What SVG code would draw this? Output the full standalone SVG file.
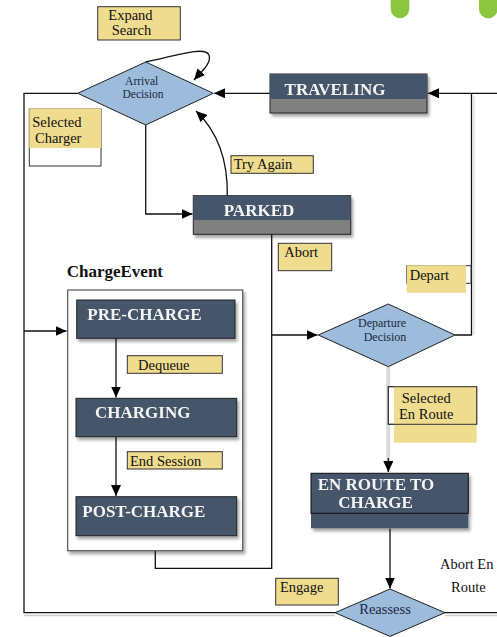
<svg xmlns="http://www.w3.org/2000/svg" width="497" height="637" viewBox="0 0 497 637">
<style>
.lbl{fill:#efdc8e;stroke:#333;stroke-width:1}
.lt{font-family:"Liberation Serif",serif;font-size:14.5px;fill:#111}
.nt{font-family:"Liberation Serif",serif;font-size:17px;font-weight:bold;fill:#f4f4f4}
.dt{font-family:"Liberation Serif",serif;fill:#1a2a40;text-anchor:middle}
.dia{fill:#9dbbdb;stroke:#222;stroke-width:1}
.top{fill:#44546a}
.bot{fill:#808080;stroke:#222;stroke-width:1}
.con{fill:none;stroke:#111;stroke-width:1.3}
</style>
<defs>
<filter id="sh" x="-10%" y="-10%" width="130%" height="140%">
<feDropShadow dx="2" dy="3" stdDeviation="1.8" flood-color="#000" flood-opacity="0.35"/>
</filter>
<marker id="ah" markerUnits="userSpaceOnUse" markerWidth="12" markerHeight="10" refX="11" refY="5" orient="auto">
<path d="M0,0 L11,5 L0,10 Z" fill="#000"/>
</marker>
</defs>
<rect width="497" height="637" fill="#fff"/>
<g id="deco">
<path d="M390.7,0 V9 A9.3,9.3 0 0 0 409.3,9 V0 Z" fill="#8cc63f"/>
<path d="M479,0 V9 A9.3,9.3 0 0 0 497.6,9 V0 Z" fill="#8cc63f"/>
</g>
<g id="charge-event">
<text x="66.7" y="276.7" font-family="Liberation Serif, serif" font-size="17px" font-weight="bold" fill="#111">ChargeEvent</text>
<rect x="67.7" y="290" width="175" height="260.7" fill="#fff" stroke="#555" stroke-width="1.2" filter="url(#sh)"/>
</g>
<g id="connectors">
<path d="M24,615.5 H335 M445,615.5 H497" fill="none" stroke="#ccc" stroke-width="1.3"/>
<path class="con" d="M335,612.7 H24 V93.3 H77.7"/>
<path class="con" d="M445,612.7 H497"/>
<path class="con" d="M24,331 H66.5" marker-end="url(#ah)"/>
<path class="con" d="M270,93.3 H214" marker-end="url(#ah)"/>
<path class="con" d="M497,93.3 H428" marker-end="url(#ah)"/>
<path class="con" d="M455,335 H471.5 V93.3"/>
<path d="M474,96 V335" fill="none" stroke="#ddd" stroke-width="1.3"/>
<path class="con" d="M145.7,62 C178,55 205,46 209,55 C212,63 201,72 194,80" marker-end="url(#ah)"/>
<path class="con" d="M227.3,196 C228,160 218,132 196,111" marker-end="url(#ah)"/>
<path class="con" d="M145.7,125 V214 H192.5" marker-end="url(#ah)"/>
<path class="con" d="M271.7,234 V335"/>
<path class="con" d="M155.3,551 V568.3 H271.7 V335 H317.5" marker-end="url(#ah)"/>
<path class="con" d="M116,338 V397.5" marker-end="url(#ah)"/>
<path class="con" d="M116,437 V496" marker-end="url(#ah)"/>
<path d="M388.3,367 V462" fill="none" stroke="#d9d9d9" stroke-width="4"/>
<path class="con" d="M388.3,458 V472" marker-end="url(#ah)"/>
<path class="con" d="M390,528.5 V588.5" marker-end="url(#ah)"/>
</g>
<g id="expand-search">
<rect class="lbl" x="97.7" y="6.7" width="82.6" height="33.3"/>
<text class="lt" x="108.3" y="20">Expand</text>
<text class="lt" x="111.7" y="34.7">Search</text>
</g>
<g id="arrival-decision">
<polygon class="dia" points="77.7,93.3 145.7,62 213.3,93.3 145.7,125"/>
<text class="dt" x="141.7" y="85" font-size="11.5">Arrival</text>
<text class="dt" x="143" y="97.5" font-size="11.5">Decision</text>
</g>
<g id="selected-charger">
<rect x="29.3" y="109" width="71.7" height="57" fill="#fff" stroke="#333" stroke-width="1"/>
<rect x="29.3" y="108.5" width="71.7" height="39.5" fill="#efdc8e"/>
<text class="lt" x="32.3" y="126.7">Selected</text>
<text class="lt" x="35" y="142.7">Charger</text>
</g>
<g id="traveling" filter="url(#sh)">
<rect class="bot" x="270" y="74" width="157" height="39"/>
<rect class="top" x="270" y="74" width="157" height="25"/>
<text class="nt" x="335" y="95" text-anchor="middle">TRAVELING</text>
</g>
<g id="try-again">
<rect class="lbl" x="231" y="155.7" width="82.3" height="17.6"/>
<text class="lt" x="233.7" y="169.3">Try Again</text>
</g>
<g id="parked" filter="url(#sh)">
<rect class="bot" x="193.3" y="195.7" width="157.4" height="38.6"/>
<rect class="top" x="193.3" y="195.7" width="157.4" height="24.3"/>
<text class="nt" x="259" y="215.5" text-anchor="middle">PARKED</text>
</g>
<g id="abort">
<rect class="lbl" x="278.3" y="243.3" width="53.4" height="27.4"/>
<text class="lt" x="284.3" y="256.5">Abort</text>
</g>
<g id="depart">
<rect x="406.7" y="265.7" width="64.3" height="17.6" fill="#fff" stroke="#333" stroke-width="1"/>
<rect x="406.7" y="265.2" width="59.3" height="27.5" fill="#efdc8e"/>
<text class="lt" x="409.7" y="280">Depart</text>
</g>
<g id="pre-charge" filter="url(#sh)">
<rect class="top" x="76.7" y="300" width="158.3" height="38.3" stroke="#222" stroke-width="1"/>
<text class="nt" x="87.3" y="320">PRE-CHARGE</text>
</g>
<g id="dequeue">
<rect class="lbl" x="127.3" y="355.7" width="95" height="17.6"/>
<text class="lt" x="138" y="370">Dequeue</text>
</g>
<g id="charging" filter="url(#sh)">
<rect class="top" x="76" y="398.3" width="160.7" height="38.4" stroke="#222" stroke-width="1"/>
<text class="nt" x="95" y="418.3">CHARGING</text>
</g>
<g id="end-session">
<rect class="lbl" x="127.3" y="451.7" width="95" height="17.3"/>
<text class="lt" x="130" y="466">End Session</text>
</g>
<g id="post-charge" filter="url(#sh)">
<rect class="top" x="76" y="496.7" width="160.7" height="39" stroke="#222" stroke-width="1"/>
<text class="nt" x="82.3" y="516.7">POST-CHARGE</text>
</g>
<g id="departure-decision">
<polygon class="dia" points="318.3,335 388.3,304 455,335 388.3,366.7"/>
<text class="dt" x="382" y="326.7" font-size="12">Departure</text>
<text class="dt" x="385" y="340.7" font-size="12">Decision</text>
</g>
<g id="selected-en-route">
<rect x="388.3" y="386.7" width="88.4" height="37.6" fill="#fff" stroke="#333" stroke-width="1"/>
<rect x="394" y="386.2" width="82.7" height="56.5" fill="#efdc8e"/>
<rect x="388.3" y="386.7" width="88.4" height="37.6" fill="none" stroke="#333" stroke-width="1"/>
<text class="lt" x="401.7" y="403">Selected</text>
<text class="lt" x="399" y="419.3">En Route</text>
</g>
<g id="en-route-to-charge" filter="url(#sh)">
<rect class="top" x="311" y="473.3" width="157.3" height="55"/>
<rect x="311" y="473.3" width="157.3" height="40" fill="none" stroke="#111" stroke-width="1"/>
<text class="nt" x="317.7" y="490">EN ROUTE TO</text>
<text class="nt" x="338.3" y="508.3">CHARGE</text>
</g>
<g id="abort-en-route">
<text class="lt" x="466.7" y="569" text-anchor="middle">Abort En</text>
<text class="lt" x="468.3" y="591.7" text-anchor="middle">Route</text>
</g>
<g id="engage">
<rect class="lbl" x="275.7" y="578.3" width="62.6" height="26.7"/>
<text class="lt" x="280" y="591.7">Engage</text>
</g>
<g id="reassess">
<polygon class="dia" points="335,612.7 390,589 445,612.7 390,636.4"/>
<text class="dt" x="385" y="614" font-size="14.5">Reassess</text>
</g>
</svg>
